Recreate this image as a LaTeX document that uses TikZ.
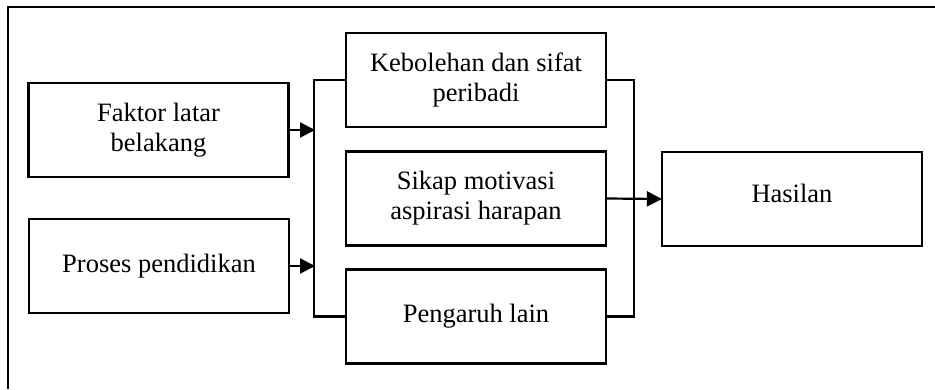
\documentclass[tikz,border=0pt]{standalone}
\usepackage{fontspec}
\setmainfont{Liberation Serif}
\usetikzlibrary{arrows.meta}
\begin{document}
\begin{tikzpicture}[x=1pt,y=-1pt,
  lw/.style={line width=2.2pt},
  box/.style={draw, lw, rectangle, inner sep=0pt, minimum width=260pt, minimum height=94pt,
    align=center, font=\fontsize{26.5}{30}\selectfont},
  wire/.style={lw},
  arr/.style={lw, -{Triangle[length=15pt,width=15pt]}, shorten >=-1pt}]
\useasboundingbox (0,0) rectangle (935,389);
% outer frame (left and top edges visible)
\draw[lw] (8,389) -- (8,7) -- (935,7);
% boxes
\node[box] (A) at (158.5,130) {Faktor latar\\belakang};
\node[box] (B) at (159,266) {Proses pendidikan};
\node[box] (C) at (476,80) {Kebolehan dan sifat\\peribadi};
\node[box] (D) at (476,198.5) {Sikap motivasi\\aspirasi harapan};
\node[box] (E) at (476,316.5) {Pengaruh lain};
\node[box] (H) at (792,199) {Hasilan\\[-18pt]};
% buses
\coordinate (bl1) at (314,80);
\coordinate (bl2) at (314,316.5);
\coordinate (br1) at (634,80);
\coordinate (br2) at (634,316.5);
\draw[wire] (C.west) -- (bl1) -- (bl2) -- (E.west);
\draw[wire] (C.east) -- (br1) -- (br2) -- (E.east);
% arrows
\draw[arr] (A.east) -- (A.east -| bl1);
\draw[arr] (B.east) -- (B.east -| bl1);
\draw[arr] (D.east) -- (H.west);
\end{tikzpicture}
\end{document}
